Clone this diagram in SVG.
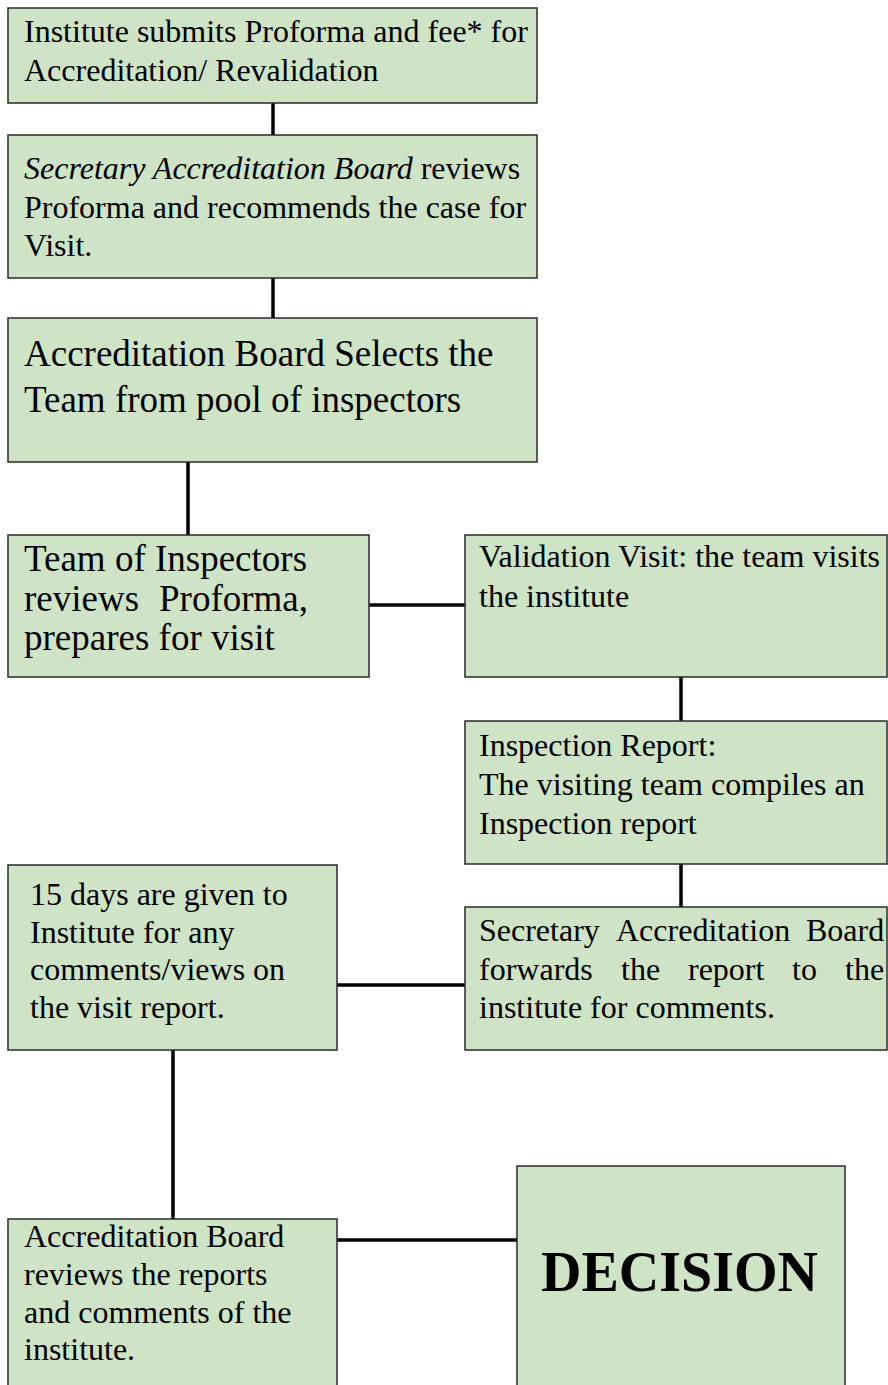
<svg xmlns="http://www.w3.org/2000/svg" width="888" height="1385" viewBox="0 0 888 1385">
<style>
.box{fill:#CFE3C6;stroke:#2a2a2a;stroke-width:1.5}
.t{font-family:"Liberation Serif","Times New Roman",serif;font-size:32px;fill:#000}
.tl{font-family:"Liberation Serif","Times New Roman",serif;font-size:37px;fill:#000}
.td{font-family:"Liberation Serif","Times New Roman",serif;font-size:56px;font-weight:bold;fill:#000}
.c{stroke:#000;stroke-width:3.5;fill:none}
</style>
<rect width="888" height="1385" fill="#fff"/>
<g id="connectors">
<line class="c" x1="273" y1="103" x2="273" y2="135"/>
<line class="c" x1="273" y1="278" x2="273" y2="318"/>
<line class="c" x1="188" y1="462" x2="188" y2="535"/>
<line class="c" x1="369" y1="605" x2="465" y2="605"/>
<line class="c" x1="681" y1="677" x2="681" y2="721"/>
<line class="c" x1="681" y1="864" x2="681" y2="907"/>
<line class="c" x1="337" y1="985" x2="465" y2="985"/>
<line class="c" x1="173" y1="1050" x2="173" y2="1219"/>
<line class="c" x1="337" y1="1240" x2="517" y2="1240"/>
</g>
<g id="n1">
<rect class="box" x="8" y="8" width="529" height="95"/>
<text class="t" x="24" y="42">Institute submits Proforma and fee* for</text>
<text class="t" x="24" y="81">Accreditation/ Revalidation</text>
</g>
<g id="n2">
<rect class="box" x="8" y="135" width="529" height="143"/>
<text class="t" x="24" y="179"><tspan font-style="italic">Secretary Accreditation Board</tspan> reviews</text>
<text class="t" x="24" y="218">Proforma and recommends the case for</text>
<text class="t" x="24" y="256">Visit.</text>
</g>
<g id="n3">
<rect class="box" x="8" y="318" width="529" height="144"/>
<text class="tl" x="24" y="366">Accreditation Board Selects the</text>
<text class="tl" x="24" y="412">Team from pool of inspectors</text>
</g>
<g id="n4">
<rect class="box" x="8" y="535" width="361" height="142"/>
<text class="tl" x="24" y="571">Team of Inspectors</text>
<text class="tl" y="611"><tspan x="24">reviews</tspan><tspan x="159">Proforma,</tspan></text>
<text class="tl" x="24" y="650">prepares for visit</text>
</g>
<g id="n5">
<rect class="box" x="465" y="535" width="422" height="142"/>
<text class="t" x="479" y="567">Validation Visit: the team visits</text>
<text class="t" x="479" y="607">the institute</text>
</g>
<g id="n6">
<rect class="box" x="465" y="721" width="422" height="143"/>
<text class="t" x="479" y="756">Inspection Report:</text>
<text class="t" x="479" y="795">The visiting team compiles an</text>
<text class="t" x="479" y="834">Inspection report</text>
</g>
<g id="n7">
<rect class="box" x="465" y="907" width="422" height="143"/>
<text class="t" y="941"><tspan x="479">Secretary</tspan><tspan x="616">Accreditation</tspan><tspan x="806">Board</tspan></text>
<text class="t" y="980"><tspan x="479">forwards</tspan><tspan x="621">the</tspan><tspan x="688">report</tspan><tspan x="792">to</tspan><tspan x="845">the</tspan></text>
<text class="t" x="479" y="1018">institute for comments.</text>
</g>
<g id="n8">
<rect class="box" x="8" y="865" width="329" height="185"/>
<text class="t" x="30" y="905">15 days are given to</text>
<text class="t" x="30" y="943">Institute for any</text>
<text class="t" x="30" y="980">comments/views on</text>
<text class="t" x="30" y="1018">the visit report.</text>
</g>
<g id="n9">
<rect class="box" x="8" y="1219" width="329" height="180"/>
<text class="t" x="24" y="1247">Accreditation Board</text>
<text class="t" x="24" y="1285">reviews the reports</text>
<text class="t" x="24" y="1323">and comments of the</text>
<text class="t" x="24" y="1360">institute.</text>
</g>
<g id="n10">
<rect class="box" x="517" y="1166" width="328" height="233"/>
<text class="td" x="541" y="1291">DECISION</text>
</g>
</svg>
